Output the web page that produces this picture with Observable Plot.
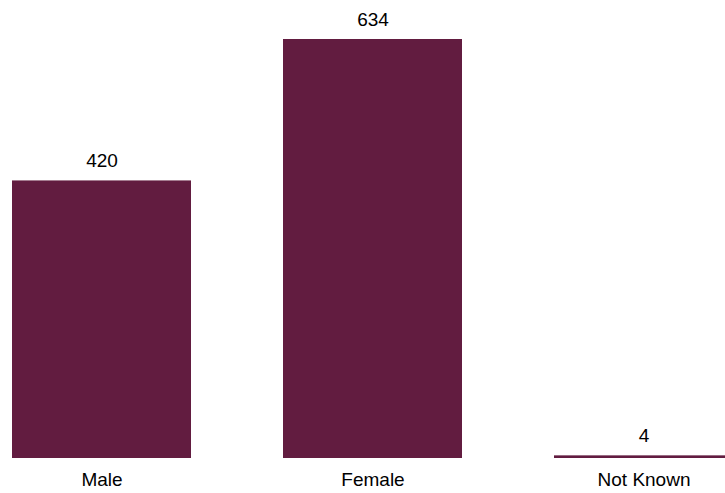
<!DOCTYPE html>
<html>
<head>
<meta charset="utf-8">
<script src="https://cdn.jsdelivr.net/npm/d3@7"></script>
<script src="https://cdn.jsdelivr.net/npm/@observablehq/plot@0.6"></script>
<style>
  html, body { margin: 0; padding: 0; background: #fff; }
  #chart svg { display: block; }
</style>
</head>
<body>
<div id="chart"></div>
<script>
const categories = ["Male", "Female", "Not Known"];
const counts = [420, 634, 4];

const data = categories.map((c, i) => ({category: c, count: counts[i]}));

const chart = Plot.plot({
  width: 725,
  height: 493,
  marginTop: 0,
  marginBottom: 35,
  marginLeft: 0,
  marginRight: 0,
  style: {fontFamily: "Liberation Sans, Arial, sans-serif", fontSize: "19px", color: "#000", background: "#fff"},
  x: {domain: categories, range: [11, 735], paddingInner: 0.338, paddingOuter: 0, label: null, tickSize: 0, tickPadding: 14},
  y: {domain: [0, 634], range: [458, 39], axis: null},
  marks: [
    Plot.barY(data, {x: "category", y: "count", fill: "#621c40"}),
    Plot.text(data, {x: "category", y: "count", text: d => String(d.count), dy: -20, fontSize: 19, fill: "#000"})
  ]
});
document.getElementById("chart").appendChild(chart);
</script>
</body>
</html>
